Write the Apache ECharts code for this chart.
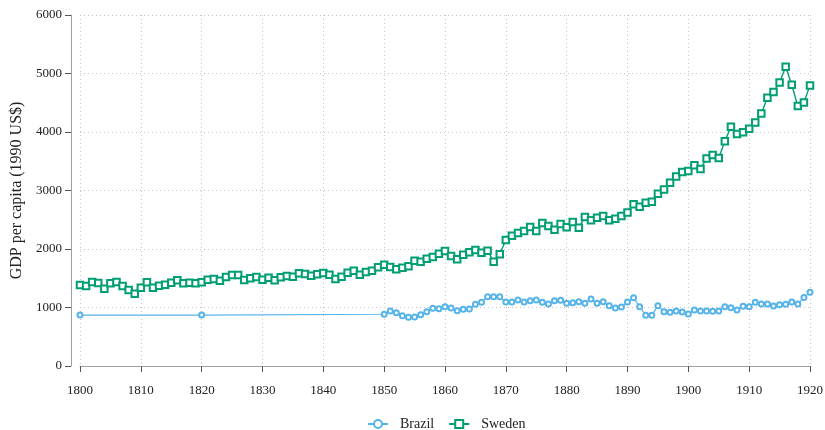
<!DOCTYPE html>
<html>
<head>
<meta charset="utf-8">
<script src="https://cdn.jsdelivr.net/npm/echarts@6/dist/echarts.min.js"></script>
<style>
  html, body { margin: 0; padding: 0; background: #fff; }
  #chart { width: 825px; height: 430px; }
</style>
</head>
<body>
<div id="chart"></div>
<script>
// GDP per capita, 1990 international dollars
var brazilYears = [1800, 1820];
for (var y = 1850; y <= 1920; y++) brazilYears.push(y);
var brazilGdp = [870, 870,
  885, 940, 911, 860, 832, 838, 877, 928, 986, 980,
  1014, 991, 946, 969, 974, 1054, 1088, 1185, 1185, 1185,
  1094, 1094, 1128, 1094, 1117, 1128, 1088, 1060, 1117, 1122,
  1071, 1082, 1099, 1071, 1145, 1071, 1099, 1031, 991, 1008,
  1094, 1167, 1014, 866, 866, 1031, 928, 917, 940, 923,
  889, 957, 940, 940, 934, 940, 1014, 997, 957, 1020,
  1014, 1088, 1060, 1060, 1025, 1048, 1054, 1094, 1060, 1173,
  1259];

var swedenYears = [];
for (var s = 1800; s <= 1920; s++) swedenYears.push(s);
var swedenGdp = [
  1384, 1367, 1436, 1418, 1321, 1413, 1436, 1367, 1299, 1236,
  1339, 1430, 1339, 1373, 1390, 1424, 1464, 1413, 1424, 1413,
  1430, 1476, 1487, 1458, 1521, 1555, 1555, 1470, 1498, 1521,
  1476, 1510, 1464, 1515, 1538, 1527, 1584, 1572, 1544, 1567,
  1589, 1561, 1487, 1527, 1595, 1629, 1561, 1606, 1629, 1686,
  1732, 1692, 1652, 1680, 1703, 1800, 1783, 1835, 1863, 1920,
  1965, 1880, 1823, 1903, 1943, 1982, 1937, 1971, 1783, 1909,
  2153, 2227, 2273, 2307, 2376, 2307, 2444, 2393, 2330, 2427,
  2370, 2461, 2364, 2546, 2490, 2535, 2564, 2490, 2518, 2564,
  2626, 2763, 2723, 2791, 2808, 2945, 3019, 3133, 3240, 3318,
  3335, 3430, 3367, 3549, 3606, 3555, 3840, 4090, 3965, 3994,
  4056, 4164, 4318, 4586, 4683, 4848, 5115, 4808, 4443, 4506,
  4797];

var xTicks = { min: 1800, max: 1920, interval: 10 };
var yTicks = { min: 0, max: 6000, interval: 1000 };

function pairs(xs, ys) {
  return xs.map(function (x, i) { return [x, ys[i]]; });
}

var FONT = '"Liberation Serif", "DejaVu Serif", serif';
var AXIS_GREY = '#a0a0a0';
var GRID_GREY = '#c4c4c4';
var BLUE = '#56B4E9';
var GREEN = '#009E73';

var chart = echarts.init(document.getElementById('chart'), null, { renderer: 'canvas' });
chart.setOption({
  animation: false,
  backgroundColor: '#ffffff',
  textStyle: { fontFamily: FONT },
  grid: { left: 80, right: 15, top: 15, bottom: 64, containLabel: false, outerBoundsMode: 'none' },
  legend: {
    top: 412,
    left: 362,
    itemGap: 14,
    itemWidth: 20,
    itemHeight: 10,
    textStyle: { fontFamily: FONT, fontSize: 14, color: '#222', padding: [0, 0, 0, 7] },
    data: ['Brazil', 'Sweden']
  },
  xAxis: {
    type: 'value',
    min: xTicks.min, max: xTicks.max, interval: xTicks.interval,
    offset: 9,
    axisLine: { show: true, lineStyle: { color: AXIS_GREY, width: 1 } },
    axisTick: { show: true, length: 6, lineStyle: { color: '#555' } },
    axisLabel: { fontFamily: FONT, fontSize: 13, color: '#222', margin: 9,
                 formatter: function (v) { return String(v); } },
    splitLine: { show: true, lineStyle: { color: GRID_GREY, type: [1, 3], width: 1 } }
  },
  yAxis: {
    type: 'value',
    min: yTicks.min, max: yTicks.max, interval: yTicks.interval,
    offset: 9,
    name: 'GDP per capita (1990 US$)',
    nameLocation: 'middle',
    nameGap: 45,
    nameTextStyle: { fontFamily: FONT, fontSize: 16, color: '#222' },
    axisLine: { show: true, lineStyle: { color: AXIS_GREY, width: 1 } },
    axisTick: { show: true, length: 6, lineStyle: { color: '#555' } },
    axisLabel: { fontFamily: FONT, fontSize: 13, color: '#222', margin: 9,
                 formatter: function (v) { return String(v); } },
    splitLine: { show: true, showMinLine: false, lineStyle: { color: GRID_GREY, type: [1, 3], width: 1 } }
  },
  series: [
    {
      name: 'Brazil',
      type: 'line',
      data: pairs(brazilYears, brazilGdp),
      symbol: 'emptyCircle',
      symbolSize: 5,
      lineStyle: { color: BLUE, width: 1.2 },
      itemStyle: { color: BLUE, borderWidth: 1.3 },
      z: 2
    },
    {
      name: 'Sweden',
      type: 'line',
      data: pairs(swedenYears, swedenGdp),
      symbol: 'emptyRect',
      symbolSize: 6.5,
      lineStyle: { color: GREEN, width: 1.4 },
      itemStyle: { color: GREEN, borderWidth: 1.4 },
      z: 3
    }
  ]
});
</script>
</body>
</html>
